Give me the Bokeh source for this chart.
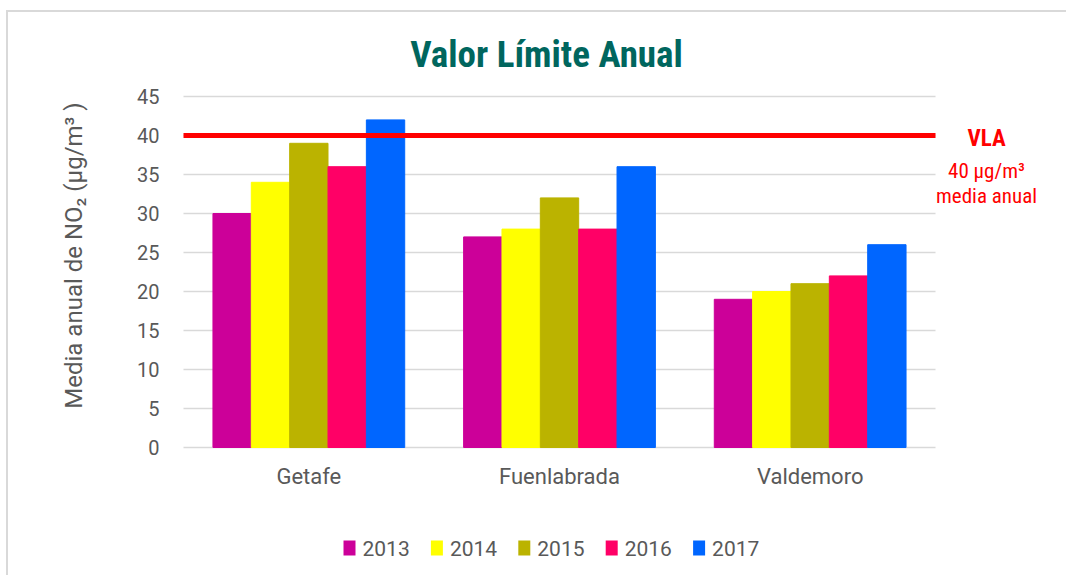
import math
from bokeh.plotting import figure
from bokeh.models import ColumnDataSource, Range1d
from bokeh.embed import file_html
from bokeh.resources import INLINE
from bokeh.core.properties import value

# ---- data ----
cities = ["Getafe", "Fuenlabrada", "Valdemoro"]
years = ["2013", "2014", "2015", "2016", "2017"]
v2013 = [30, 27, 19]
v2014 = [34, 28, 20]
v2015 = [39, 32, 21]
v2016 = [36, 28, 22]
v2017 = [42, 36, 26]
colors = ["#cc0099", "#ffff00", "#bbb300", "#ff0066", "#0066ff"]
y_ticks = [0, 5, 10, 15, 20, 25, 30, 35, 40, 45]
y_max = 45
vla_value = 40
title_text = "Valor Límite Anual"
y_label = "Media anual de NO₂ (µg/m³ )"
vla_lines = ["VLA", "40 µg/m³", "media anual"]

series = [v2013, v2014, v2015, v2016, v2017]

# ---- layout (page pixels) ----
W, H = 1060, 565
CANVAS_X, CANVAS_Y = 8, 12          # canvas offset on the page
PLOT_L, PLOT_R, PLOT_T, PLOT_B = 183, 935, 96, 447
XU = (PLOT_R - PLOT_L) / len(cities)   # px per category
YU = (PLOT_B - PLOT_T) / y_max          # px per value unit


def X(px):
    return (px - PLOT_L) / XU


def Y(py):
    return (PLOT_B - py) / YU


GREY = "#595959"
FONT = "Roboto"
NARROW = "Liberation Sans Narrow, Arial Narrow, Roboto Condensed, sans-serif"

p = figure(width=W, height=H, x_range=Range1d(X(CANVAS_X), X(CANVAS_X + W)),
           y_range=Range1d(Y(CANVAS_Y + H), Y(CANVAS_Y)),
           x_axis_type=None, y_axis_type=None, output_backend="svg",
           toolbar_location=None, min_border=0)
p.min_border_left = p.min_border_right = p.min_border_top = p.min_border_bottom = 0
p.outline_line_color = None
p.background_fill_color = "white"
p.border_fill_color = "white"
p.margin = (10, 0, 0, 6)
p.styles = {"border-top": "2px solid #d9d9d9", "border-left": "2px solid #d9d9d9"}

# horizontal grid lines at the y ticks
n_t = len(y_ticks)
p.segment(x0=[0] * n_t, x1=[len(cities)] * n_t, y0=y_ticks, y1=y_ticks,
          line_color="#d9d9d9", line_width=1.5)

# bars
centers = [i + 0.5 for i in range(len(cities))]
bw = 0.153
offsets = [-2 * bw, -bw, 0, bw, 2 * bw]
for yr, vals, col, off in zip(years, series, colors, offsets):
    src = ColumnDataSource(dict(x=[c + off for c in centers], top=vals))
    p.vbar(x="x", top="top", bottom=0, width=bw, source=src,
           fill_color=col, line_color=col)

# VLA limit line
p.segment(x0=[0], x1=[len(cities)], y0=[vla_value], y1=[vla_value],
          line_color="#ff0000", line_width=5)

# y tick labels
p.text(x=[X(159)] * n_t, y=y_ticks, text=[str(t) for t in y_ticks],
       text_align="right", text_baseline="middle", text_font=value(FONT),
       text_font_size="20px", text_color=GREY)

# category labels
p.text(x=centers, y=[Y(476)] * len(cities), text=cities, text_align="center",
       text_baseline="alphabetic", text_font=value(FONT),
       text_font_size="22px", text_color=GREY)

# title
p.text(x=[X(546)], y=[Y(54)], text=[title_text], text_align="center",
       text_baseline="alphabetic", text_font=value(NARROW),
       text_font_size="37px", text_font_style="bold", text_color="#00665e")

# y axis label
p.text(x=[X(73)], y=[Y(255)], text=[y_label], angle=math.pi / 2,
       text_align="center", text_baseline="middle", text_font=value(FONT),
       text_font_size="24px", text_color=GREY)

# VLA annotation
p.text(x=[X(986)], y=[Y(138)], text=[vla_lines[0]], text_align="center",
       text_baseline="alphabetic", text_font=value(NARROW),
       text_font_size="23px", text_font_style="bold", text_color="#ff0000")
p.text(x=[X(986)] * 2, y=[Y(170), Y(195)], text=vla_lines[1:],
       text_align="center", text_baseline="alphabetic", text_font=value(NARROW),
       text_font_size="21px", text_color="#ff0000")

# legend
step = 87.4
sq_x = [X(349 + i * step) for i in range(len(years))]
lbl_x = [X(349 + i * step + 13) for i in range(len(years))]
p.rect(x=sq_x, y=[Y(547.5)] * len(years), width=12 / XU, height=15 / YU,
       fill_color=colors, line_color=None)
p.text(x=lbl_x, y=[Y(547.5)] * len(years), text=years, text_align="left",
       text_baseline="middle", text_font=value(FONT),
       text_font_size="21px", text_color=GREY)

open("out.html", "w").write(file_html(p, INLINE))
